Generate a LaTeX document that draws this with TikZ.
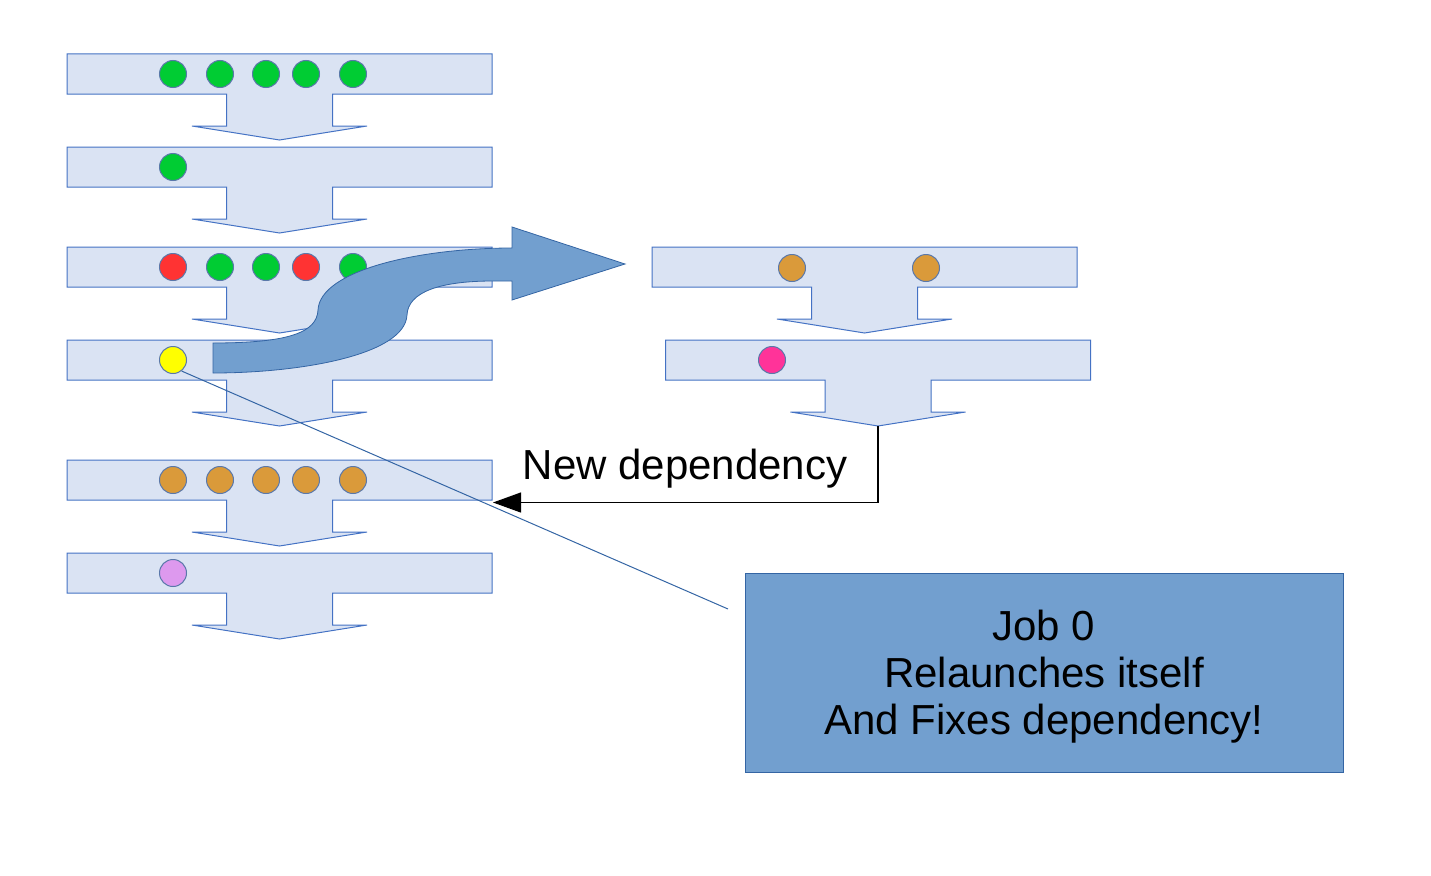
\documentclass[tikz,border=0pt]{standalone}
\usepackage{fontspec}
\setmainfont{Liberation Sans}
\usetikzlibrary{arrows.meta}
\definecolor{barfill}{RGB}{218,227,243}
\definecolor{barline}{RGB}{68,114,196}
\definecolor{bigfill}{RGB}{114,159,207}
\definecolor{bigline}{RGB}{52,101,164}
\definecolor{cgreen}{RGB}{0,204,51}
\definecolor{cred}{RGB}{255,51,51}
\definecolor{cyellow}{RGB}{255,255,0}
\definecolor{corange}{RGB}{218,154,58}
\definecolor{clav}{RGB}{221,153,238}
\definecolor{cmag}{RGB}{255,51,153}
\definecolor{dotline}{RGB}{90,120,170}
\newcommand\jobrow[3]{%
  \draw[barshape] (#2,#3) -- ++(425,0) -- ++(0,40) -- ++(-159.5,0) -- ++(0,32)
    -- ++(34.5,0) -- ++(-87.5,14) -- ++(-87.5,-14) -- ++(34.5,0) -- ++(0,-32)
    -- ++(-159.5,0) -- cycle;
  \coordinate (#1-tip) at (#2+212.5,#3+86);
  \coordinate (#1-right) at (#2+426,#3+42);
}
\begin{document}
\begin{tikzpicture}[x=1pt,y=-1pt,
  barshape/.style={fill=barfill,draw=barline,line width=1pt,line join=miter},
  dot/.style={circle,draw=dotline,line width=1pt,minimum size=27pt,inner sep=0pt},
  bigshape/.style={fill=bigfill,draw=bigline,line width=0.8pt},
  bigfont/.style={font=\fontsize{42}{47}\selectfont}]
\useasboundingbox (0,0) rectangle (1431,875);
% left column
\jobrow{rowa}{67}{54}
\jobrow{rowb}{67}{147}
\jobrow{rowc}{67}{247}
\jobrow{rowd}{67}{340}
\jobrow{rowe}{67}{460}
\jobrow{rowf}{67}{553}
% right column
\jobrow{rowg}{652}{247}
\jobrow{rowh}{665.5}{340}
% dots row a
\node[dot,fill=cgreen] (a1) at (173,74) {};
\node[dot,fill=cgreen] (a2) at (220,74) {};
\node[dot,fill=cgreen] (a3) at (266,74) {};
\node[dot,fill=cgreen] (a4) at (306,74) {};
\node[dot,fill=cgreen] (a5) at (353,74) {};
% row b
\node[dot,fill=cgreen] (b1) at (173,167) {};
% row c
\node[dot,fill=cred] (c1) at (173,267) {};
\node[dot,fill=cgreen] (c2) at (220,267) {};
\node[dot,fill=cgreen] (c3) at (266,267) {};
\node[dot,fill=cred] (c4) at (306,267) {};
\node[dot,fill=cgreen] (c5) at (353,267) {};
% row d
\node[dot,fill=cyellow] (d1) at (173,360) {};
% row e
\node[dot,fill=corange] (e1) at (173,480) {};
\node[dot,fill=corange] (e2) at (220,480) {};
\node[dot,fill=corange] (e3) at (266,480) {};
\node[dot,fill=corange] (e4) at (306,480) {};
\node[dot,fill=corange] (e5) at (353,480) {};
% row f
\node[dot,fill=clav] (f1) at (173,573) {};
% right dots
\node[dot,fill=corange] (g1) at (792,268) {};
\node[dot,fill=corange] (g2) at (926,268) {};
\node[dot,fill=cmag] (h1) at (772,360) {};
% curved arrow
\draw[bigshape] (213,343) .. controls (290,343) and (317,332) .. (318,310)
  .. controls (320,270) and (420,248) .. (512,248) -- (512,227) -- (625,264)
  -- (512,300) -- (512,281) -- (493,281)
  .. controls (440,281) and (408,292) .. (407,315)
  .. controls (405,355) and (300,373) .. (213,373) -- cycle;
% new dependency connector
\draw[line width=1.2pt,-{Triangle[length=28pt,width=20pt]}]
  (rowh-tip) |- (rowe-right |- 0,502.5);
\node[bigfont,anchor=center] (deplabel) at (685,469) {New dependency};
% callout line
\coordinate (callend) at (728,609);
\draw[bigline,line width=1pt] (d1.-52) -- (callend);
% job box
\node[bigshape,bigfont,minimum width=598pt,minimum height=199pt,
  inner sep=0pt] (jobbox) at (1044,672.5) {};
\node[bigfont,align=center,inner sep=0pt] (jobtext) at (1044,676.5)
  {Job 0\\Relaunches itself\\And Fixes dependency!};
\end{tikzpicture}
\end{document}
